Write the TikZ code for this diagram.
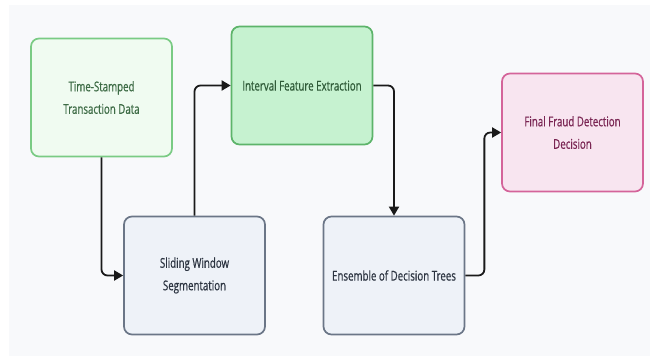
\documentclass[tikz,border=0pt]{standalone}
\usepackage{fontspec}
\setmainfont{Open Sans}[FakeStretch=0.72,FakeBold=0.6]
\usetikzlibrary{arrows.meta}
\definecolor{bgc}{HTML}{F8F9FB}
\definecolor{gfillA}{HTML}{F0FBF1}
\definecolor{gdrawA}{HTML}{7ACB84}
\definecolor{gtextA}{HTML}{3D6B45}
\definecolor{gfillB}{HTML}{C6F2D0}
\definecolor{gdrawB}{HTML}{5DB46A}
\definecolor{gtextB}{HTML}{2F5B38}
\definecolor{pfill}{HTML}{F8E5F0}
\definecolor{pdraw}{HTML}{D4649A}
\definecolor{ptext}{HTML}{7A2553}
\definecolor{sfill}{HTML}{EEF2F8}
\definecolor{sdraw}{HTML}{6B7687}
\definecolor{stext}{HTML}{2B3340}
\definecolor{arrc}{HTML}{1A1A1A}
\tikzset{
  boxbase/.style={rectangle, rounded corners=8pt, line width=1.7pt, minimum width=141pt, minimum height=118pt, align=center, font=\fontsize{13.5}{22.5}\selectfont, inner sep=0pt},
  boxA/.style={boxbase, fill=gfillA, draw=gdrawA, text=gtextA},
  boxB/.style={boxbase, fill=gfillB, draw=gdrawB, text=gtextB},
  boxP/.style={boxbase, fill=pfill, draw=pdraw, text=ptext},
  boxS/.style={boxbase, fill=sfill, draw=sdraw, text=stext},
  conn/.style={draw=arrc, line width=1.8pt, rounded corners=6pt, -{Triangle[length=9pt,width=10pt]}},
}
\begin{document}
\begin{tikzpicture}[x=1pt,y=-1pt]
\useasboundingbox (0,0) rectangle (650,358);
\fill[bgc] (9,5) rectangle (650,356);
\node[boxA] (ts) at (101.5,97.5) {Time-Stamped\\Transaction Data};
\node[boxB] (ife) at (302,85.5) {Interval Feature Extraction};
\node[boxP] (ffd) at (572.5,132.5) {Final Fraud Detection\\Decision};
\node[boxS] (sws) at (194.5,275.5) {Sliding Window\\Segmentation};
\node[boxS] (edt) at (394,275.5) {Ensemble of Decision Trees};
\draw[conn] (ts.south) |- (sws.west);
\draw[conn] (sws.north) |- (ife.west);
\draw[conn] (ife.east) -| (edt.north);
\draw[conn] (edt.east) -- ++(19,0) |- (ffd.west);
\end{tikzpicture}
\end{document}
